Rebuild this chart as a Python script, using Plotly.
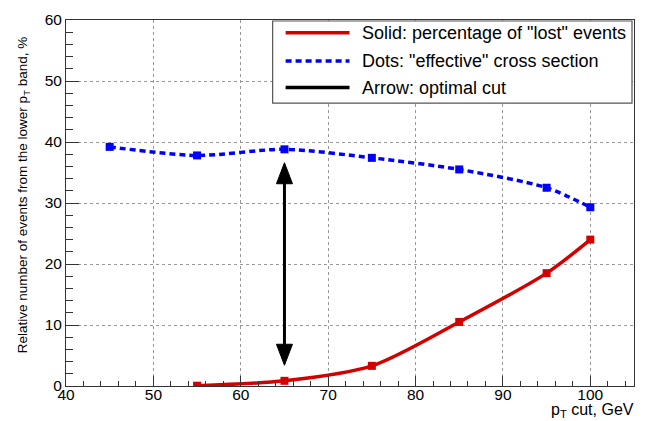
import plotly.graph_objects as go

# ---- data ----
pt_lost = [55, 65, 75, 85, 95, 100]
lost_pct = [0.05, 0.85, 3.3, 10.5, 18.5, 24.0]

pt_eff = [45, 55, 65, 75, 85, 95, 100]
eff_xsec = [39.2, 37.8, 38.8, 37.4, 35.5, 32.5, 29.3]

arrow_x = 65
arrow_y = [3.4, 36.6]

x_ticks = [40, 50, 60, 70, 80, 90, 100]
y_ticks = [0, 10, 20, 30, 40, 50, 60]

legend_labels = ['Solid: percentage of "lost" events',
                 'Dots: "effective" cross section',
                 'Arrow: optimal cut']
legend_colors = ['#d40000', '#0000ff', '#000000']
legend_dash = ['solid', '6px,4px', 'solid']

FONT = "Liberation Sans, Arial, Helvetica, sans-serif"

fig = go.Figure()

fig.add_trace(go.Scatter(
    x=pt_eff, y=eff_xsec, mode="lines+markers",
    line=dict(color="#0000ff", width=3.5, dash="6px,4px", shape="spline", smoothing=0.8),
    marker=dict(symbol="square", size=8, color="#0000ff"),
    showlegend=False, hoverinfo="skip"))

fig.add_trace(go.Scatter(
    x=pt_lost, y=lost_pct, mode="lines+markers",
    line=dict(color="#d40000", width=3.5, shape="spline", smoothing=0.8),
    marker=dict(symbol="square", size=8, color="#d40000"),
    showlegend=False, hoverinfo="skip"))

# arrow shaft
fig.add_shape(type="line", xref="x", yref="y",
              x0=arrow_x, x1=arrow_x, y0=arrow_y[0] + 1.5, y1=arrow_y[1] - 1.5,
              line=dict(color="black", width=3))
# arrow heads (pixel sized, anchored at data tips)
fig.add_shape(type="path", xref="x", yref="y",
              xsizemode="pixel", ysizemode="pixel",
              xanchor=arrow_x, yanchor=arrow_y[1],
              path="M0,0 L-8,-21 L8,-21 Z",
              fillcolor="black", line=dict(color="black", width=1))
fig.add_shape(type="path", xref="x", yref="y",
              xsizemode="pixel", ysizemode="pixel",
              xanchor=arrow_x, yanchor=arrow_y[0],
              path="M0,0 L-8,21 L8,21 Z",
              fillcolor="black", line=dict(color="black", width=1))

# ---- legend drawn as shapes + text ----
L, R, T, B = 66, 635, 12, 386
W, H = R - L, B - T
def px(x):
    return (x - L) / W
def py(y):
    return (B - y) / H

fig.add_shape(type="rect", xref="paper", yref="paper",
              x0=px(273), x1=px(633), y0=py(97), y1=py(13),
              line=dict(color="#555555", width=1.2), fillcolor="white", layer="above")
rows = [25, 54, 81]
for lab, col, dsh, ry in zip(legend_labels, legend_colors, legend_dash, rows):
    fig.add_shape(type="line", xref="paper", yref="paper",
                  x0=px(286), x1=px(350), y0=py(ry), y1=py(ry),
                  line=dict(color=col, width=3.5, dash=dsh), layer="above")
    fig.add_annotation(xref="paper", yref="paper", x=px(361), y=py(ry),
                       text=lab, showarrow=False, xanchor="left", yanchor="middle",
                       font=dict(family=FONT, size=18, color="black"))

# axis titles
fig.add_annotation(xref="paper", yref="paper", x=px(23), y=py(191),
                   text="Relative number of events from the lower p<sub>T</sub> band, %",
                   textangle=-90, showarrow=False, xanchor="center", yanchor="middle",
                   font=dict(family=FONT, size=13.5, color="black"))
fig.add_annotation(xref="paper", yref="paper", x=px(637), y=py(411),
                   text="p<sub>T</sub> cut, GeV", showarrow=False,
                   xanchor="right", yanchor="middle",
                   font=dict(family=FONT, size=16, color="black"))

axis_common = dict(
    showline=True, linecolor="#333333", linewidth=1, mirror=True,
    showgrid=True, gridcolor="#999999", gridwidth=1, griddash="dot",
    zeroline=False, ticks="inside", tickcolor="#333333",
    tickfont=dict(family=FONT, size=15.5, color="black"),
)

fig.update_xaxes(range=[40, 105], tickvals=x_ticks, ticklen=10, ticklabelstandoff=-6,
                 minor=dict(dtick=2, ticks="inside", ticklen=5, tickcolor="#333333", showgrid=False),
                 **axis_common)
fig.update_yaxes(range=[0, 60], tickvals=y_ticks, ticklen=13,
                 minor=dict(dtick=2, ticks="inside", ticklen=7, tickcolor="#333333", showgrid=False),
                 **axis_common)

fig.update_layout(
    width=646, height=421,
    margin=dict(l=L, r=646 - R, t=T, b=421 - B),
    paper_bgcolor="white", plot_bgcolor="white",
    font=dict(family=FONT, color="black"),
    showlegend=False,
)

fig.write_html("out.html")
